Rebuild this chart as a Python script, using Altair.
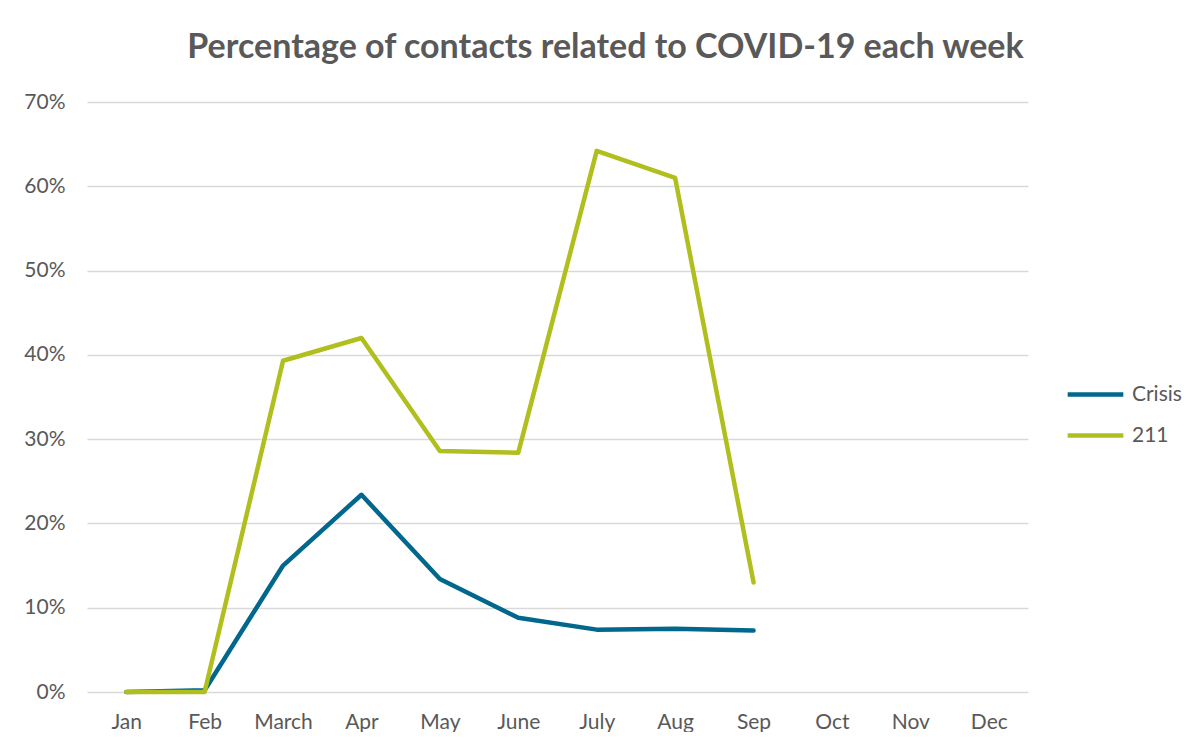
import altair as alt
import pandas as pd

months = ["Jan", "Feb", "March", "Apr", "May", "June", "July", "Aug", "Sep", "Oct", "Nov", "Dec"]
crisis = [0.0, 0.2, 15.0, 23.4, 13.4, 8.8, 7.4, 7.5, 7.3]
line211 = [0.0, 0.0, 39.3, 42.0, 28.6, 28.4, 64.2, 61.0, 13.0]
series = ["Crisis", "211"]
colors = ["#01678C", "#B0BF1E"]

rows = []
for m, v in zip(months, crisis):
    rows.append({"month": m, "series": "Crisis", "value": v / 100})
for m, v in zip(months, line211):
    rows.append({"month": m, "series": "211", "value": v / 100})
df = pd.DataFrame(rows)

FONT = "Lato"
GRAY = "#595959"

chart = alt.Chart(df).mark_line(strokeWidth=4.5, strokeCap="round", strokeJoin="round").encode(
    x=alt.X("month:O", sort=months,
            scale=alt.Scale(domain=months, padding=0.5),
            axis=alt.Axis(title=None, labelAngle=0, domain=False, ticks=False,
                          labelPadding=19, labelFontSize=21, labelColor=GRAY, labelFont=FONT, grid=False)),
    y=alt.Y("value:Q", scale=alt.Scale(domain=[0, 0.7]),
            axis=alt.Axis(title=None, format=".0%", values=[0, 0.1, 0.2, 0.3, 0.4, 0.5, 0.6, 0.7],
                          domain=False, ticks=False, labelPadding=22, labelFontSize=21,
                          labelColor=GRAY, labelFont=FONT, gridColor="#D9D9D9", gridWidth=1.5)),
    color=alt.Color("series:N", scale=alt.Scale(domain=series, range=colors),
                    legend=alt.Legend(title=None, orient="none", legendX=978, legendY=262,
                                      symbolType="stroke", symbolSize=3100, symbolStrokeWidth=4.5,
                                      labelFontSize=21, labelColor=GRAY, labelFont=FONT,
                                      rowPadding=-11, labelOffset=6)),
).properties(
    width=941,
    height=590,
    title=alt.TitleParams("Percentage of contacts related to COVID-19 each week",
                          fontSize=34, font=FONT, fontWeight="bold", color=GRAY,
                          anchor="middle", frame="group", dx=48, offset=26),
    padding={"left": 79, "top": 94, "right": 160, "bottom": 40},
    autosize=alt.AutoSizeParams(type="none"),
).configure_view(stroke=None)

chart.save("out.html", embed_options={"renderer": "svg", "actions": False})
